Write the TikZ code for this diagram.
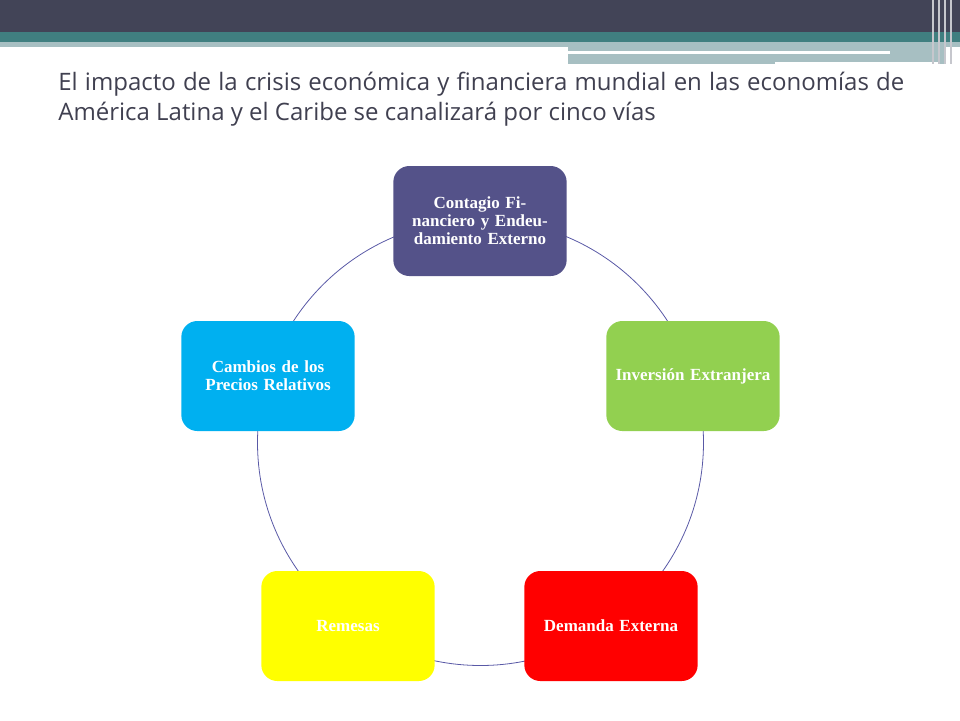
\documentclass[tikz,border=0pt]{standalone}
\usepackage{fontspec}
\setmainfont{Liberation Serif}
\newfontfamily\titlefont{Open Sans}
\definecolor{bandDark}{HTML}{424457}
\definecolor{bandTeal}{HTML}{407F80}
\definecolor{bandLight}{HTML}{A7BFC2}
\definecolor{titleGray}{HTML}{404050}
\definecolor{viaPurple}{HTML}{545289}
\definecolor{viaGreen}{HTML}{92D050}
\definecolor{viaRed}{HTML}{FF0000}
\definecolor{viaYellow}{HTML}{FFFF00}
\definecolor{viaBlue}{HTML}{00B0F0}
\tikzset{
  via/.style={rounded corners=8pt, minimum width=85pt, minimum height=55pt,
    text width=80pt, align=center, text=white, font=\fontsize{8.5}{9}\selectfont\bfseries},
}
\begin{document}
\begin{tikzpicture}[x=0.5pt, y=-0.5pt] % {{{
\useasboundingbox (0,0) rectangle (960,720);
% Banda superior {{{
\fill[bandDark] (0,0) rectangle (960,32);
\fill[bandTeal] (0,32) rectangle (960,42);
\fill[bandLight] (0,42) rectangle (960,47);
\fill[bandLight] (568,47) rectangle (945,64);
\fill[white] (568,51) rectangle (890,54);
\fill[white] (775,62) rectangle (940,64);
\foreach \x in {932,938,944,950} \fill[white!70!bandDark] (\x,0) rectangle (\x+2,64);
% }}}
\node[anchor=north west, text width=423pt, align=justify, text=titleGray, inner sep=0pt,
  font=\titlefont\fontsize{12}{15}\selectfont] (titulo) at (58,72)
  {El impacto de la crisis económica y financiera mundial en las economías de América Latina y el Caribe se canalizará por cinco vías};
% Ciclo {{{
\draw[gray!70!blue, line width=0.4pt] (480.5,442.5) circle (111.5pt);
\node[via, fill=viaPurple] (contagio) at (480,221) {Contagio Financiero y Endeudamiento Externo};
\node[via, fill=viaGreen] (inversion) at (693,376) {Inversión Extranjera};
\node[via, fill=viaRed] (demanda) at (611,626) {Demanda Externa};
\node[via, fill=viaYellow] (remesas) at (348,626) {Remesas};
\node[via, fill=viaBlue] (cambios) at (268,376) {Cambios de los Precios Relativos};
% }}}
\end{tikzpicture}
\end{document}
